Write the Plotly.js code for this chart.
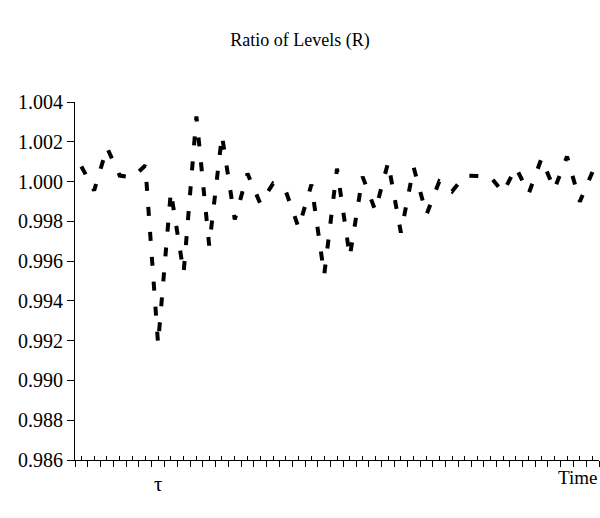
<!DOCTYPE html>
<html>
<head>
<meta charset="utf-8">
<script src="https://cdn.plot.ly/plotly-3.0.1.min.js"></script>
<style>html,body{margin:0;padding:0;background:#fff;}#chart{width:600px;height:518px;}</style>
</head>
<body>
<div id="chart"></div>
<script>
// Time periods (category index) and ratio of levels R
var periods = [0,1,2,3,4,5,6,7,8,9,10,11,12,13,14,15,16,17,18,19,20,21,22,23,24,25,26,27,28,29,30,31,32,33,34,35,36,37,38,39,40];
var ratio = [1.00076,0.99955,1.00171,1.00030,1.00020,1.00081,0.99184,0.99950,0.99542,1.00327,
             0.99678,1.00232,0.99809,1.00040,0.99889,0.99990,0.99950,0.99768,0.99985,0.99531,
             1.00065,0.99622,1.00025,0.99854,1.00096,0.99743,1.00071,0.99834,1.00000,0.99950,
             1.00030,1.00025,1.00025,0.99945,1.00071,0.99940,1.00116,0.99960,1.00126,0.99899,
             1.00050];
var yTicks = [0.986,0.988,0.990,0.992,0.994,0.996,0.998,1.000,1.002,1.004];
var tauPeriod = 6;

var font = "Liberation Serif";

var trace = {
  x: periods, y: ratio, type: 'scatter', mode: 'lines',
  line: {color: '#000', width: 4, dash: '9px,16px'},
  hoverinfo: 'skip'
};

var plotH = 518 - 102 - 58, plotW = 600 - 75 - 1;

var layout = {
  width: 600, height: 518,
  margin: {l: 75, r: 1, t: 102, b: 58},
  paper_bgcolor: '#fff', plot_bgcolor: '#fff',
  showlegend: false,
  font: {family: font, color: '#000', size: 18},
  title: {text: 'Ratio of Levels (R)', font: {family: font, size: 18, color: '#000'},
          x: 0.5, xanchor: 'center', y: 1 - 40 / 518, yanchor: 'middle'},
  xaxis: {
    range: [-0.5, periods.length - 0.5],
    showgrid: false, zeroline: false,
    showline: true, linecolor: '#000', linewidth: 1,
    tickmode: 'linear', tick0: -0.5, dtick: 1,
    ticks: 'outside', ticklen: 6, tickcolor: '#000', tickwidth: 1,
    showticklabels: false,
    minor: {tick0: 0, dtick: 1, ticks: 'inside', ticklen: 4, tickcolor: '#000', tickwidth: 1, showgrid: false}
  },
  yaxis: {
    range: [0.986, 1.004],
    showgrid: false, zeroline: false,
    showline: true, linecolor: '#000', linewidth: 1,
    tickmode: 'array', tickvals: yTicks, ticktext: yTicks.map(function(v){return v.toFixed(3);}),
    ticks: 'outside', ticklen: 7, tickcolor: '#000', tickwidth: 1,
    tickfont: {family: font, size: 20, color: '#000'}
  },
  annotations: [
    {x: tauPeriod, xref: 'x', y: (460 - 484) / plotH, yref: 'paper', yanchor: 'middle',
     text: 'τ', showarrow: false, font: {family: font, size: 21, color: '#000'}},
    {x: 1, xref: 'paper', xanchor: 'right', y: (460 - 477) / plotH, yref: 'paper', yanchor: 'middle',
     text: 'Time', showarrow: false, font: {family: font, size: 19, color: '#000'}}
  ]
};

Plotly.newPlot('chart', [trace], layout, {displayModeBar: false, staticPlot: true});
</script>
</body>
</html>
